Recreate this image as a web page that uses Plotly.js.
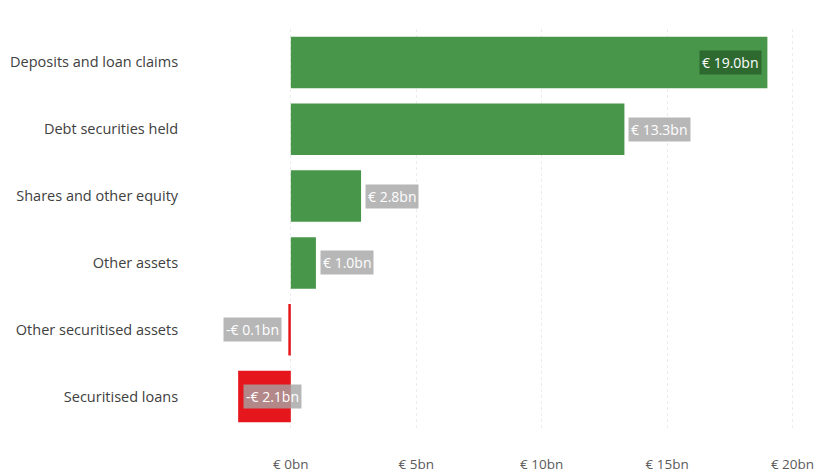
<!DOCTYPE html>
<html><head><meta charset="utf-8">
<script src="https://cdn.plot.ly/plotly-3.0.1.min.js"></script>
<style>html,body{margin:0;padding:0;background:#fff;}#chart{width:816px;height:473px;}</style>
</head><body><div id="chart"></div>
<script>
const categories = ["Deposits and loan claims","Debt securities held","Shares and other equity","Other assets","Other securitised assets","Securitised loans"];
const values = [19.0, 13.3, 2.8, 1.0, -0.1, -2.1];
const labels = ["€ 19.0bn","€ 13.3bn","€ 2.8bn","€ 1.0bn","-€ 0.1bn","-€ 2.1bn"];
const tickVals = [0,5,10,15,20];
const tickText = ["€ 0bn","€ 5bn","€ 10bn","€ 15bn","€ 20bn"];

const green = "#48964a", red = "#e5171c";
const colors = values.map(v => v >= 0 ? green : red);

const annotations = values.map((v, i) => {
  const inside = v > 15;
  let xanchor, xshift;
  if (inside) { xanchor = "right"; xshift = -5; }
  else if (v >= 0) { xanchor = "left"; xshift = 4; }
  else if (v > -1) { xanchor = "right"; xshift = -6; }
  else { xanchor = "left"; xshift = 5; }
  return {
    x: v, y: categories[i], xref: "x", yref: "y",
    text: labels[i], showarrow: false, xanchor: xanchor, xshift: xshift,
    font: {family: "Open Sans, sans-serif", size: 14, color: "#ffffff"},
    bgcolor: inside ? "#2e6930" : "rgba(165,165,165,0.8)",
    borderpad: 2
  };
});

const trace = {
  type: "bar", orientation: "h",
  x: values, y: categories,
  marker: {color: colors},
  width: 0.77, hoverinfo: "skip"
};

const layout = {
  width: 816, height: 473,
  margin: {l: 190, r: 16, t: 29, b: 43},
  paper_bgcolor: "#fff", plot_bgcolor: "#fff",
  showlegend: false,
  xaxis: {
    range: [-4.02, 20.3],
    tickvals: tickVals, ticktext: tickText,
    showgrid: true, gridcolor: "#ececec", griddash: "dot", gridwidth: 1,
    zeroline: false, showline: false,
    ticks: "outside", ticklen: 22, tickcolor: "rgba(0,0,0,0)",
    tickfont: {family: "Open Sans, sans-serif", size: 13.5, color: "#5a5a5a"},
    fixedrange: true
  },
  yaxis: {
    categoryorder: "array", categoryarray: categories,
    autorange: "reversed",
    showgrid: false, zeroline: false, showline: false,
    ticks: "outside", ticklen: 8, tickcolor: "rgba(0,0,0,0)",
    tickfont: {family: "Open Sans, sans-serif", size: 14.5, color: "#404040"},
    fixedrange: true
  },
  annotations: annotations,
  bargap: 0.23
};

Plotly.newPlot("chart", [trace], layout, {displayModeBar: false, staticPlot: true});
</script></body></html>
